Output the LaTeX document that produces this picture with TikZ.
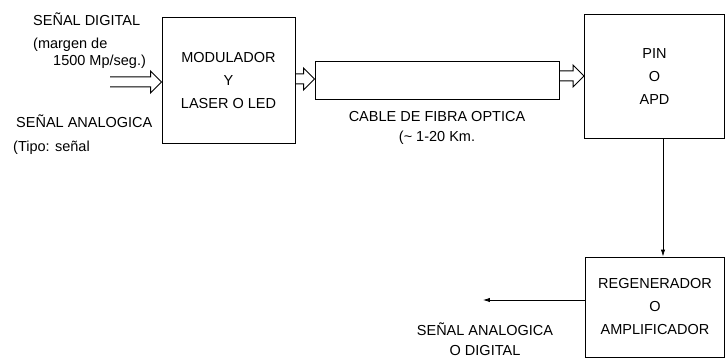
\documentclass[tikz,border=0pt]{standalone}
\usepackage{fontspec}
\setmainfont{Liberation Sans}
\usetikzlibrary{positioning,arrows.meta,calc}

\begin{document}
\begin{tikzpicture}[x=1pt,y=-1pt,font=\fontsize{14.5}{23}\selectfont,
  blk/.style={draw,line width=1pt,align=center,inner sep=0pt},
  lbl/.style={anchor=base west,inner sep=0pt},
  sub/.style={align=center,inner sep=0pt},
  hollow/.style={line width=1pt,line join=miter,
    to path={let \p1=(\tikztostart),\p2=(\tikztotarget) in
      (\x1,\y1+5pt) -- (\x2-11pt,\y1+5pt) -- (\x2-11pt,\y1+11pt) -- (\x2,\y1)
      -- (\x2-11pt,\y1-11pt) -- (\x2-11pt,\y1-5pt) -- (\x1,\y1-5pt)}},
  thin/.style={line width=0.7pt,-{Latex[length=2.4mm,width=1.5mm]}}]
  \useasboundingbox (0,0) rectangle (726,361);
  % boxes
  \node[blk,minimum width=133pt,minimum height=125pt] (mod) at (228.5,80.5) {MODULADOR\\Y\\LASER O LED};
  \node[blk,minimum width=244pt,minimum height=38pt] (cab) at (437,81) {};
  \node[blk,minimum width=140pt,minimum height=123pt] (pin) at (654.5,76.5) {PIN\\O\\APD};
  \node[blk,minimum width=139pt,minimum height=100pt] (reg) at (655,307) {REGENERADOR\\O\\AMPLIFICADOR};
  % input labels
  \node[lbl] (sdig) at (33,26) {SEÑAL DIGITAL};
  \node[lbl] (marg) at (33,49) {(margen de};
  \node[lbl] (rate) at (53,66) {1500 Mp/seg.)};
  \node[lbl] (sana) at (16,127) {SEÑAL ANALOGICA};
  \node[lbl] (tipo) at (13,151) {(Tipo: señal};
  % cable and output labels
  \node[sub,below=11pt of cab] (fib) {CABLE DE FIBRA OPTICA\\[-3pt](\textasciitilde{} 1-20 Km.};
  \node[sub] (sout) at (485,339) {SEÑAL ANALOGICA\\[-3pt]O DIGITAL};
  % connectors
  \coordinate (in) at (110,82);
  \coordinate (out) at (483,300);
  \draw[hollow] (in) to (in -| mod.west);
  \draw[hollow] (mod.east |- 0,79) to (cab.west |- 0,79);
  \draw[hollow] (cab.east |- 0,76) to (pin.west |- 0,76);
  \draw[thin] ([xshift=8.5pt]pin.south) -- ([xshift=8.5pt]pin.south |- reg.north);
  \draw[thin] (out -| reg.west) -- (out);
\end{tikzpicture}
\end{document}
